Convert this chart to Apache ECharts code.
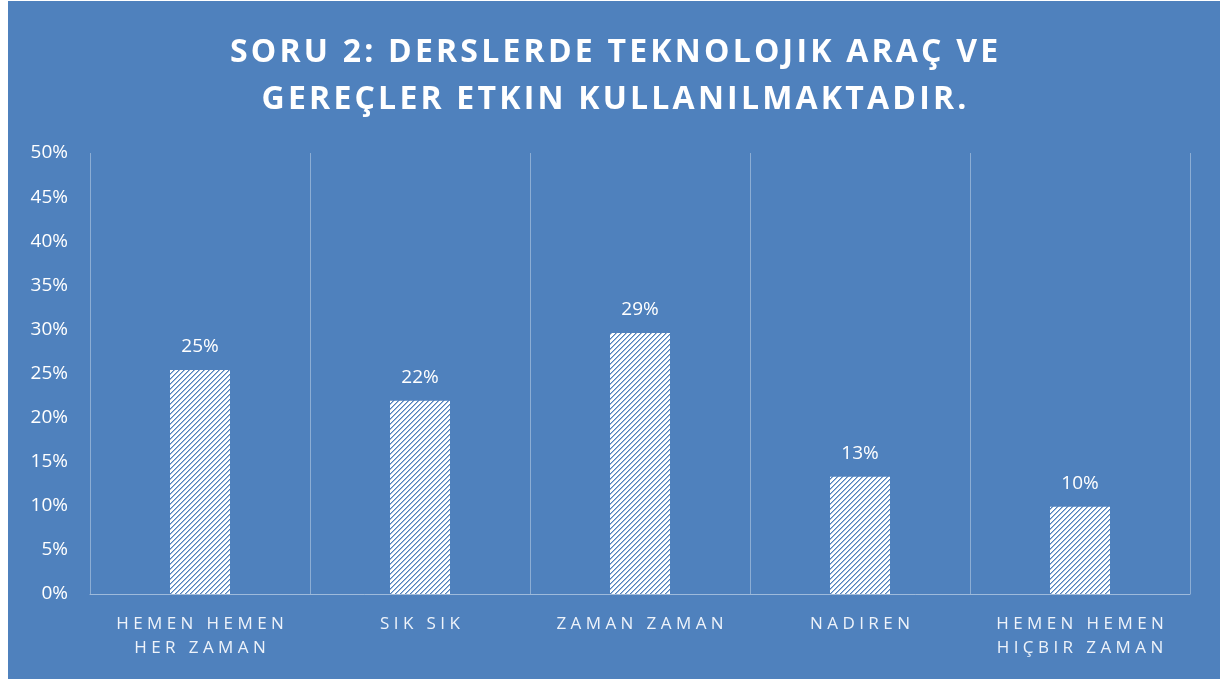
<!DOCTYPE html>
<html>
<head>
<meta charset="utf-8">
<script src="https://cdn.jsdelivr.net/npm/echarts@6/dist/echarts.min.js"></script>
<style>
  html, body { margin: 0; padding: 0; background: #fff; }
  #chart { position: absolute; left: 8px; top: 1px; width: 1212px; height: 678px; }
</style>
</head>
<body>
<div id="chart"></div>
<script>
const titleLines = ['SORU 2: DERSLERDE TEKNOLOJIK ARAÇ VE', 'GEREÇLER ETKIN KULLANILMAKTADIR.']
const categories = [['HEMEN HEMEN', 'HER ZAMAN'], ['SIK SIK'], ['ZAMAN ZAMAN'], ['NADIREN'], ['HEMEN HEMEN', 'HIÇBIR ZAMAN']]
const values = [0.254, 0.219, 0.296, 0.133, 0.099]
const labels = ['25%', '22%', '29%', '13%', '10%']

// spread letters out like the original letter-spaced text
const spaced = (s, gap) => s.split(' ').map(w => w.split('').join(gap)).join(gap + ' ' + gap)

// hatch pattern: white with thin blue diagonal stripes
const tile = document.createElement('canvas')
tile.width = 5
tile.height = 5
const ctx = tile.getContext('2d')
ctx.fillStyle = '#ffffff'
ctx.fillRect(0, 0, 5, 5)
ctx.fillStyle = '#4f81bd'
for (let i = 0; i < 5; i++) {
  ctx.fillRect(i, 4 - i, 1, 1)
}
ctx.fillStyle = 'rgba(79,129,189,0.55)'
for (let i = 0; i < 5; i++) {
  ctx.fillRect(i, (5 - i) % 5, 1, 1)
}

const chart = echarts.init(document.getElementById('chart'))
chart.setOption({
  backgroundColor: '#4f81bd',
  textStyle: { fontFamily: 'Open Sans' },
  title: {
    text: titleLines.map(l => spaced(l, '\u200a')).join('\n'),
    left: 'center',
    top: 23,
    textStyle: {
      color: '#ffffff',
      fontSize: 32,
      fontWeight: 'bold',
      lineHeight: 47,
      fontFamily: 'Open Sans'
    }
  },
  grid: { left: 82, right: 30, top: 152, bottom: 85 },
  xAxis: {
    type: 'category',
    data: categories.map(c => c.join('\n')),
    axisTick: { show: false },
    axisLine: { lineStyle: { color: 'rgba(255,255,255,0.45)', width: 1 } },
    splitLine: { show: true, lineStyle: { color: 'rgba(255,255,255,0.35)', width: 1 } },
    axisLabel: {
      color: '#eef3fa',
      fontSize: 17,
      lineHeight: 24,
      margin: 18,
      formatter: v => v.split('\n').map(l => spaced(l, ' ')).join('\n')
    }
  },
  yAxis: {
    type: 'value',
    min: 0,
    max: 0.5,
    interval: 0.05,
    splitLine: { show: false },
    axisLine: { show: false },
    axisTick: { show: false },
    axisLabel: {
      color: '#ffffff',
      fontSize: 19,
      margin: 22,
      formatter: v => Math.round(v * 100) + '%'
    }
  },
  series: [
    {
      type: 'bar',
      data: values,
      barWidth: 60,
      itemStyle: { color: { image: tile, repeat: 'repeat' } },
      label: {
        show: true,
        position: 'top',
        distance: 14,
        color: '#ffffff',
        fontSize: 19,
        formatter: p => labels[p.dataIndex]
      }
    }
  ]
})
</script>
</body>
</html>
